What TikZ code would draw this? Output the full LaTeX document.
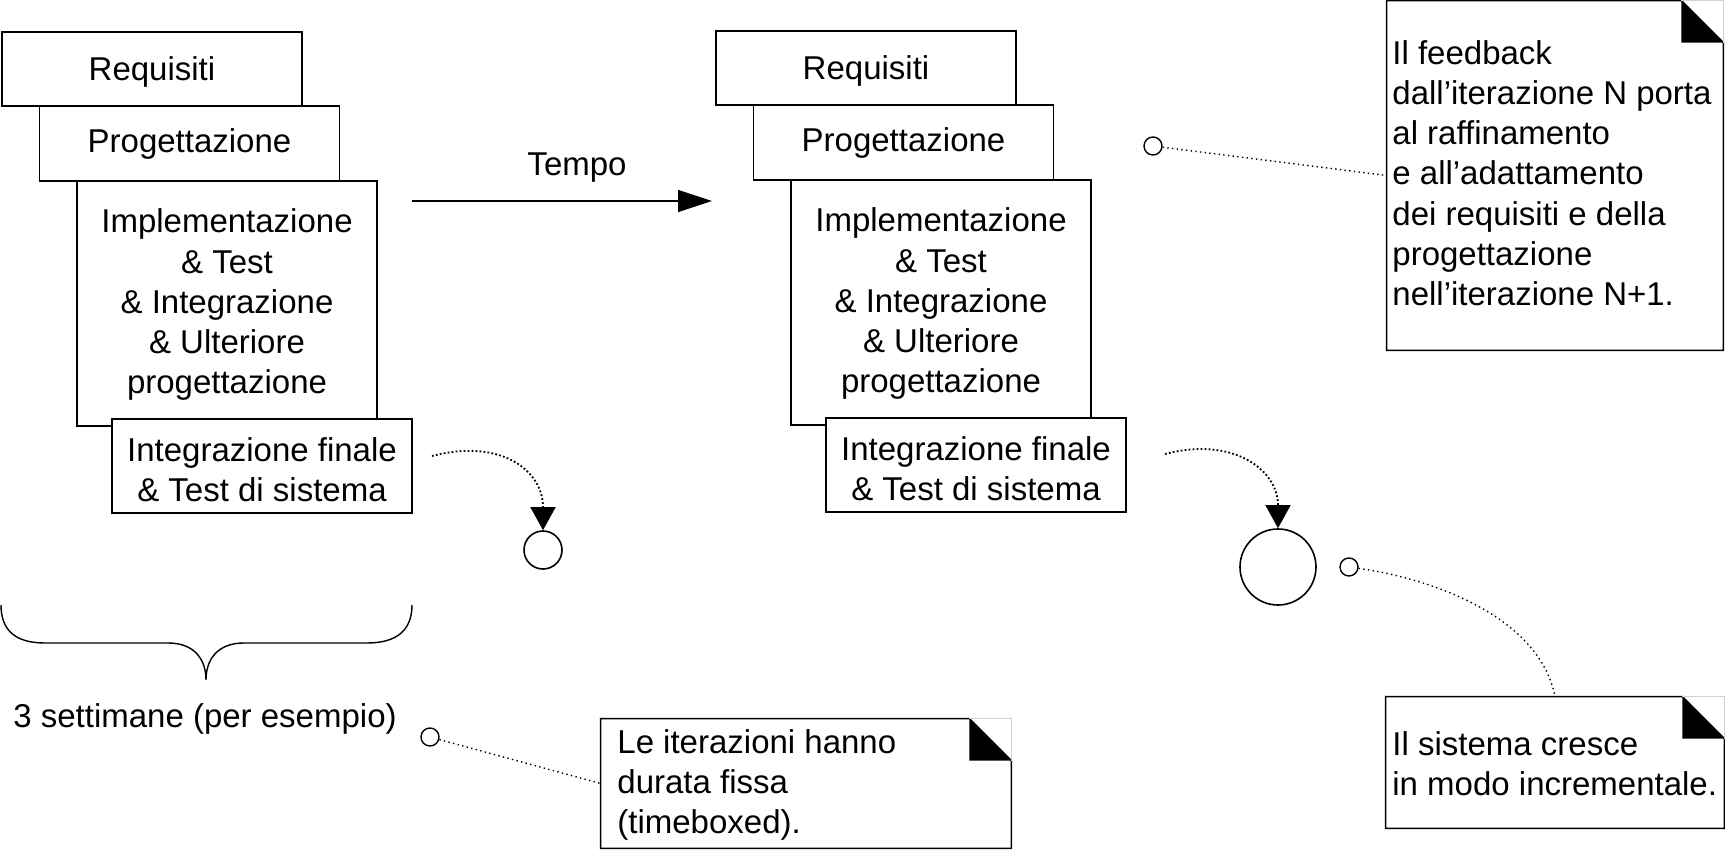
\documentclass[tikz,border=0pt]{standalone}
\usepackage{fontspec}
\setmainfont{Liberation Sans}
\usetikzlibrary{arrows.meta}
\newcommand\drawnotefold[1]{%
  \draw[outline] (#1.north west) -- ([xshift=-21pt]#1.north east) -- ([yshift=-21pt]#1.north east) -- (#1.south east) -- (#1.south west) -- cycle;
  \fill ([xshift=-21pt]#1.north east) -- ([yshift=-21pt]#1.north east) -- ([xshift=-21pt,yshift=-21pt]#1.north east) -- cycle;
  \draw[gray!35, line width=0.4pt] ([xshift=-21pt]#1.north east) -- (#1.north east) -- ([yshift=-21pt]#1.north east);
}
\begin{document}
\begin{tikzpicture}[x=0.5pt,y=-0.5pt,
  boxtxt/.style={font=\fontsize{16.5pt}{20.1pt}\selectfont},
  stagebox/.style={draw, line width=0.7pt, fill=white, minimum width=150pt, inner sep=0pt, align=center, boxtxt},
  notetxt/.style={font=\fontsize{16.5pt}{20.1pt}\selectfont, align=left, inner sep=0pt, anchor=north west},
  noteframe/.style={draw=none, inner sep=0pt},
  pin/.style={draw, circle, line width=0.7pt, inner sep=0pt, minimum size=9pt},
  ball/.style={draw, circle, line width=0.8pt, inner sep=0pt},
  dotcurve/.style={line width=0.9pt, dash pattern=on 0.9pt off 1.1pt},
  headtip/.style={-{Triangle[length=11.5pt,width=12.5pt]}, line width=0.7pt},
  dotline/.style={line width=0.7pt, dash pattern=on 0.7pt off 1.65pt},
  outline/.style={line width=0.7pt}
]
\useasboundingbox (0,0) rectangle (1725,850);

% left iteration
\node[stagebox, minimum height=37pt, text depth=0pt] (L1) at (152,69) {Requisiti};
\node[stagebox, minimum height=37.5pt, text depth=2.5pt] (L2) at (189.5,143.5) {Progettazione};
\node[stagebox, minimum height=122.5pt, text depth=2.1pt] (L3) at (227,303.5) {Implementazione\\ \& Test\\ \& Integrazione\\ \& Ulteriore\\ progettazione};
\node[stagebox, minimum height=47pt, text height=35.7pt, text depth=0pt] (L4) at (262,466) {Integrazione finale\\ \& Test di sistema};

% right iteration
\node[stagebox, minimum height=37pt, text depth=0pt] (R1) at (866,68) {Requisiti};
\node[stagebox, minimum height=37.5pt, text depth=2.5pt] (R2) at (903.5,142.5) {Progettazione};
\node[stagebox, minimum height=122.5pt, text depth=2.1pt] (R3) at (941,302.5) {Implementazione\\ \& Test\\ \& Integrazione\\ \& Ulteriore\\ progettazione};
\node[stagebox, minimum height=47pt, text height=35.7pt, text depth=0pt] (R4) at (976,465) {Integrazione finale\\ \& Test di sistema};

% time arrow
\node[boxtxt, anchor=base, inner sep=0pt] (tempo) at (577,176) {Tempo};
\coordinate (ta) at (412,201);
\coordinate (tb) at (712,201);
\draw[line width=0.7pt, -{Triangle[length=17pt,width=11pt]}] (ta) -- (tb);

% result circles
\node[ball, minimum size=19pt] (s1) at (543,550) {};
\node[ball, minimum size=38pt] (s2) at (1278,567) {};
\coordinate (c1) at (432,456);
\coordinate (c2) at (1165,454);
\coordinate (h1) at ([yshift=11.5pt]s1.north);
\coordinate (h2) at ([yshift=11.5pt]s2.north);
\draw[dotcurve] (c1) .. controls (500,438) and (543,470) .. (h1);
\draw[headtip] (h1) -- (s1.north);
\draw[dotcurve] (c2) .. controls (1233,436) and (1278,470) .. (h2);
\draw[headtip] (h2) -- (s2.north);

% brace
\draw[outline] (1,605) .. controls (1,630) and (15,643) .. (45,643) -- (168,643)
  .. controls (195,643) and (206,660) .. (206,680)
  .. controls (206,660) and (217,643) .. (244,643) -- (367,643)
  .. controls (397,643) and (412,630) .. (412,605);
\node[boxtxt, anchor=base, inner sep=0pt] (dur) at (205,727) {3 settimane (per esempio)};

% notes
\node[noteframe, minimum width=168pt, minimum height=174.5pt] (fb) at (1555,175.5) {};
\node[noteframe, minimum width=205pt, minimum height=64.5pt] (le) at (806,783.5) {};
\node[noteframe, minimum width=169pt, minimum height=65.5pt] (is) at (1555,762.5) {};

\node[pin] (p1) at (1153,146) {};
\node[pin] (p2) at (430,737) {};
\node[pin] (p3) at (1349,567) {};
\draw[dotline] (p1) -- (fb.west);
\draw[dotline] (p2) -- (le.west);
\draw[dotline] (p3) .. controls (1440,580) and (1540,620) .. (is.north);

\drawnotefold{fb}
\drawnotefold{le}
\drawnotefold{is}

\node[notetxt] (fbt) at (1392,40) {Il feedback\\dall’iterazione N porta\\al raffinamento\\e all’adattamento\\dei requisiti e della\\progettazione\\nell’iterazione N+1.};
\node[notetxt] (let) at (617,729) {Le iterazioni hanno\\durata fissa\\(timeboxed).};
\node[notetxt] (ist) at (1392,731) {Il sistema cresce\\in modo incrementale.};
\end{tikzpicture}
\end{document}
